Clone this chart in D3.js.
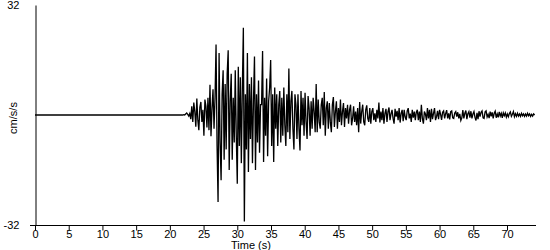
<!DOCTYPE html>
<html>
<head>
<meta charset="utf-8">
<script src="https://cdn.jsdelivr.net/npm/d3@7/dist/d3.min.js"></script>
<style>
  body { margin: 0; background: #fff; }
  svg { display: block; font-family: "Liberation Sans", Arial, sans-serif; }
  .tickLabel { font-size: 11px; fill: #000; }
  .axisTitle { font-size: 11px; fill: #000; }
</style>
</head>
<body>
<div id="chart"></div>
<script>
// accelerogram values (cm/s/s)
var preEventTimes = [0, 21.45];
var preEventValues = [0, 0];

var sampleStart = 21.6;   // seconds, first sample below
var sampleStep = 0.15;

var onsetValues = [
    0, 0, 0, 0.1, 0, 0.3, 0.6, 0.2, -0.3, 0.4,
    -1.2, 2.5, -2, 3.6, 1, -3.4, 4.8, -1.5, -4.4, 2.2,
    3.8, -2, 1.5, -6, 4.5, 2.5, -3.6, 5, -4.4, 8.8];
var strongValues = [
    -6.2, 2, 7.5, -4, 5, 20.5, -9, -25.3, 18, -8,
    -19, 6, 13, -13, 9, -10, 12, 18.8, -16, 4,
    12, -13, 5, -8, 13, -6, -20, 14, -9, 11,
    -14, 8, 25.4, -31, 6, -10, 18, -16.6, 9, -7,
    11, -14, 4, 17, -16, 6, -8, 10, -11, 3,
    3, 18.6, -13.7, 5, -6, 10.6, -12, 4, 8, 16];
var decayValues = [
    -9, 6, -13.7, 8, -4, 6, -9, 3, 7, -8,
    5, -6, 8, -3, -9, 6, -5, 13.5, -7, 4,
    7, -4, -10, 6, 3, -7, 6, -4, -10.3, 7,
    -3, 5, -6, 6.5, -2, -7, 5.5, 2, -6, 4,
    -4, 5, 1, -5, 9, -5, 4.5, -2, -4, 3,
    5, -3, 6.7, -6, 2, 4, -4, 3.5, -2, -5,
    3, 5.2, -3.5, 1, 4, -4, 2, -2, 4.5, -3,
    1, 3.5, -3.5, 2, -1, 3, -2.5, 1.5, 3, -3,
    -1, 2.5, -2, 1, -3, 2, -5, 3.8, -2.5, 1,
    3, -2, -3, 1.5, 2.8, -1, -2, 2, -2.5, 1,
    2, -1.5, 0.5, -2, 1.5, -1, 3.6, -2.2, 1, -1.5];
var codaValues = [
    2, -2.5, 0.5, 1.8, -2, 1, 2.2, -1.5, 0.3, 1.5,
    -1, -2.5, 1.8, -0.5, 1.2, -1.5, 2, -2.2, 0.5, 1.5,
    -1.8, 1.5, -0.6, -1.5, 1.2, 2, -1, 0.4, -2, 1.5,
    -0.8, 1, -1.5, 0.8, 1.5, -1.5, 1, -2, 3, -1,
    -2.5, 1, 0.3, -1.5, 2, -1, 1.5, -2, 1.8, -1.2,
    0.5, 2, -1.5, -0.5, 1.2, -1.2, 1.5, 0.2, -1.4, 0.8,
    1.2, -1, 0.4, 1.4, -1, 0.5, -1.3, 1, 1.2, -0.8,
    -1, 0.6, 1, -0.5, 0.8, -1, 0.3, -1.6, -0.8, 1.4,
    -1, 0.5, 1.3, -1.2, 0.4, 1, -0.8, 1.1, -1, 0.3,
    1, -0.7, -1.6, 0.6, -1.2, 1.1, -0.5, 0.8, 1.2, -0.8,
    -1, 0.9, 1.2, -0.6, 0.2, -0.9, 1, -0.4, 0.8, -1,
    0.5, 1.1, -0.8, 0.3, -0.7, 0.9, -0.3, 0.5, -0.8, 0.6,
    -0.2, 0.6, -0.6, 0.3, -0.5, 0.4, 0.9, -0.4, 0.2, 1,
    -0.5, 0.4, -0.4, 0.5, -0.3, 0.3, -0.4, 0.5, -0.2, 0.3,
    -0.4, 0.3, -0.3, 0.5, -0.2, 0.3, -0.4, 0.2, -0.3, 0.3,
    0];

var xTicks = [0, 5, 10, 15, 20, 25, 30, 35, 40, 45, 50, 55, 60, 65, 70];
var yTicks = [-32, 32];
var xLabel = "Time (s)";
var yLabel = "cm/s/s";

var width = 550, height = 250;
var margin = {top: 5, right: 14, bottom: 25, left: 35};

var svg = d3.select("#chart").append("svg")
    .attr("width", width)
    .attr("height", height);

var x = d3.scaleLinear()
    .domain([0, 74.3])
    .range([margin.left, width - margin.right]);

var y = d3.scaleLinear()
    .domain([-32, 32])
    .range([height - margin.bottom, margin.top]);

// build the series
var trace = [];
preEventTimes.forEach(function(t, i) {
    trace.push({t: t, v: preEventValues[i]});
});
var samples = onsetValues.concat(strongValues, decayValues, codaValues);
samples.forEach(function(v, i) {
    trace.push({t: sampleStart + i * sampleStep, v: v});
});

var line = d3.line()
    .x(function(d) { return x(d.t); })
    .y(function(d) { return y(d.v); });

svg.append("path")
    .datum(trace)
    .attr("fill", "none")
    .attr("stroke", "#000")
    .attr("stroke-width", 1.3)
    .attr("d", line);

// x axis
var xAxis = svg.append("g")
    .attr("transform", "translate(0," + (y(-32) + 0.5) + ")")
    .call(d3.axisBottom(x).tickValues(xTicks).tickSize(5).tickPadding(0).tickSizeOuter(0));
xAxis.select(".domain").attr("d", "M" + (margin.left - 5) + ",0H" + (width - margin.right));
xAxis.selectAll("text")
    .attr("class", "tickLabel")
    .style("font-size", "11px")
    .style("font-family", "Liberation Sans, Arial, sans-serif");

// y axis
var yAxis = svg.append("g")
    .attr("transform", "translate(" + (x(0) + 0.5) + ",0)")
    .call(d3.axisLeft(y).tickValues(yTicks).tickSize(0).tickSizeOuter(0).tickPadding(16)
        .tickFormat(function(d) { return String(d); }));
yAxis.selectAll("text")
    .attr("class", "tickLabel")
    .style("font-size", "11px")
    .style("font-family", "Liberation Sans, Arial, sans-serif");

svg.append("text")
    .attr("class", "axisTitle")
    .attr("x", 251)
    .attr("y", 249)
    .attr("text-anchor", "middle")
    .text(xLabel);

svg.append("text")
    .attr("class", "axisTitle")
    .attr("transform", "translate(17,118) rotate(-90)")
    .attr("text-anchor", "middle")
    .text(yLabel);
</script>
</body>
</html>
